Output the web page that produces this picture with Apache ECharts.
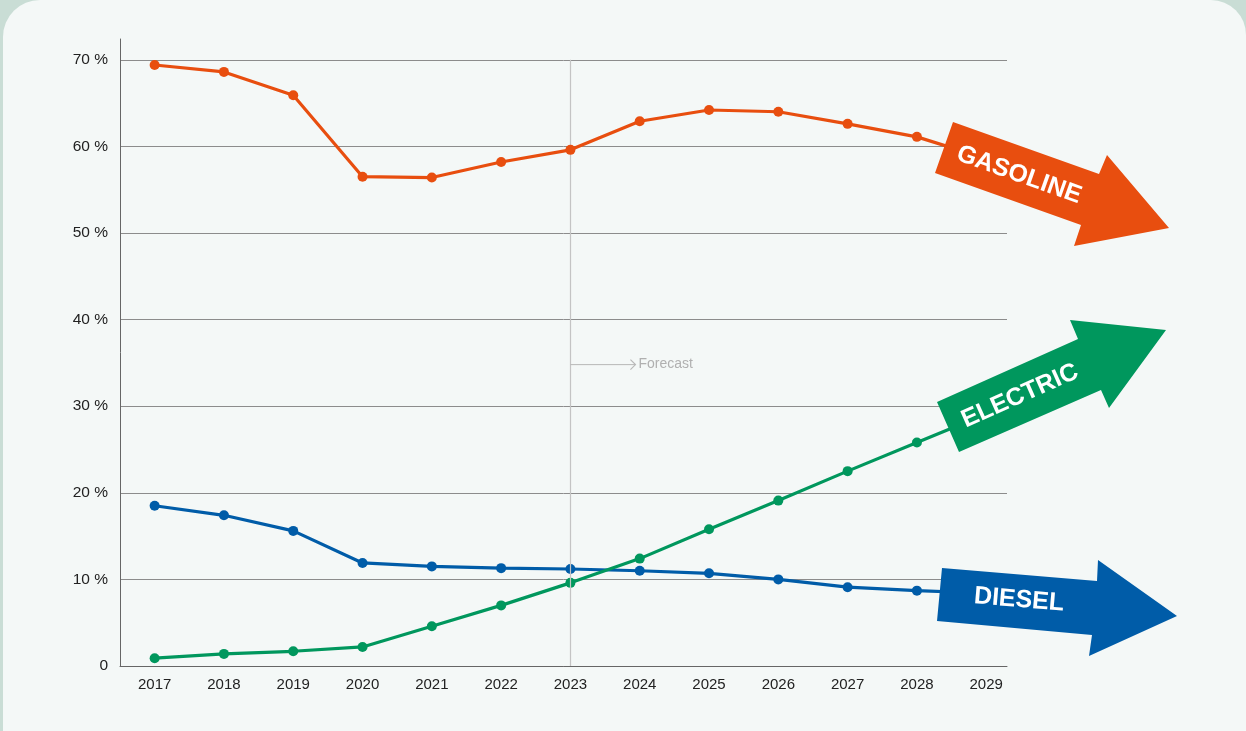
<!DOCTYPE html>
<html>
<head>
<meta charset="utf-8">
<script src="https://cdn.jsdelivr.net/npm/echarts@6/dist/echarts.min.js"></script>
<style>
html,body{margin:0;padding:0;background:#c9ddd5;}
#c{width:1246px;height:731px;}
</style>
</head>
<body>
<div id="c"></div>
<script>
const years = [2017,2018,2019,2020,2021,2022,2023,2024,2025,2026,2027,2028,2029];
const gasoline = [69.4,68.6,65.9,56.5,56.4,58.2,59.6,62.9,64.2,64.0,62.6,61.1,58.6];
const electric = [0.9,1.4,1.7,2.2,4.6,7.0,9.6,12.4,15.8,19.1,22.5,25.8,29.1];
const diesel = [18.5,17.4,15.6,11.9,11.5,11.3,11.2,11.0,10.7,10.0,9.1,8.7,8.4];
const yTicks = [0,10,20,30,40,50,60,70];
const forecastYear = 2023;
const forecastLabel = 'Forecast';

const FONT = '"Liberation Sans", Arial, Helvetica, sans-serif';
const cGas = '#e84e0f', cEl = '#00975d', cDie = '#005ca8';

const chart = echarts.init(document.getElementById('c'));

function pairs(vals){ return years.map((y,i)=>[y, vals[i]]); }

function lineSeries(name, vals, color, z){
  return {
    name, type:'line', data: pairs(vals), z,
    symbol:'circle', symbolSize:10, showSymbol:true,
    lineStyle:{color, width:3.2}, itemStyle:{color},
    emphasis:{disabled:true}, animation:false
  };
}

const series = [
  lineSeries('Diesel', diesel, cDie, 3),
  lineSeries('Electric', electric, cEl, 4),
  lineSeries('Gasoline', gasoline, cGas, 5)
];
series[0].markLine = {
  silent:true, symbol:['none','none'], animation:false,
  lineStyle:{color:'#c4c4c4', width:1.2, type:'solid'},
  label:{show:false},
  data:[[{coord:[forecastYear,0]},{coord:[forecastYear,70]}]]
};

chart.setOption({
  backgroundColor:'transparent',
  animation:false,
  grid:{left:120, right:239, top:39, bottom:65},
  xAxis:{
    type:'value', min:2016.5, max:2029.3,
    axisLine:{show:true, lineStyle:{color:'#666', width:1}},
    axisTick:{show:false},
    splitLine:{show:false},
    axisLabel:{customValues:years, formatter:v=>String(v), color:'#222', fontFamily:FONT, fontSize:15, margin:11}
  },
  yAxis:{
    type:'value', min:0, max:72.4,
    axisLine:{show:true, lineStyle:{color:'#666', width:1}},
    axisTick:{show:false},
    splitLine:{show:true, showMaxLine:false, lineStyle:{color:'#8c8c8c', width:1}},
    axisLabel:{customValues:yTicks, formatter:v=> v===0 ? '0' : v+' %', color:'#222', fontFamily:FONT, fontSize:15.5, margin:12}
  },
  series
});

// annotations
const p0 = chart.convertToPixel({gridIndex:0}, [forecastYear, 34.8]);
const arrowEnd = p0[0] + 65;

function arrow(points, color, text, cx, cy, rot){
  return [
    {type:'polygon', z:100, shape:{points}, style:{fill:color}},
    {type:'text', z:101, x:cx, y:cy, rotation:rot*Math.PI/180,
     style:{text, fill:'#fff', font:'bold 25px '+FONT, align:'center', verticalAlign:'middle'}}
  ];
}

chart.setOption({
  graphic:[
    {type:'rect', z:-10, silent:true, shape:{x:3, y:0, width:1243, height:800, r:[37,35,0,0]}, style:{fill:'#f4f8f7'}},
    {type:'polyline', z:50, shape:{points:[[p0[0],p0[1]],[arrowEnd,p0[1]]]}, style:{stroke:'#b8b8b8', lineWidth:1, fill:null}},
    {type:'polyline', z:50, shape:{points:[[arrowEnd-5,p0[1]-5],[arrowEnd,p0[1]],[arrowEnd-5,p0[1]+5]]}, style:{stroke:'#b8b8b8', lineWidth:1.2, fill:null}},
    {type:'text', z:50, x:arrowEnd+3, y:p0[1], style:{text:forecastLabel, fill:'#b0b0b0', font:'14px '+FONT, verticalAlign:'middle'}},
    ...arrow([[953,122],[1099,174],[1107,155],[1169,228],[1074,246],[1081,225],[935,173]], cGas, 'GASOLINE', 1019, 175, -19.6),
    ...arrow([[937,402],[1078,339],[1070,320],[1166,330],[1109,408],[1101,390],[959,452]], cEl, 'ELECTRIC', 1020, 396, 24),
    ...arrow([[942,568],[1097,581],[1098,560],[1177,616],[1089,656],[1092,635],[937,621]], cDie, 'DIESEL', 1019, 600, -4.8)
  ]
});
</script>
</body>
</html>
